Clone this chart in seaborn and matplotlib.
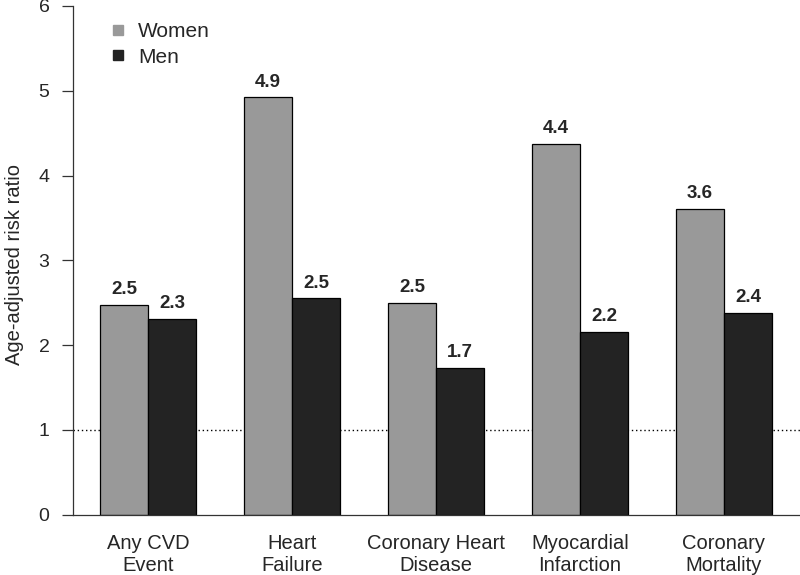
import pandas as pd
import matplotlib
matplotlib.use('Agg')
import matplotlib.pyplot as plt
from matplotlib.lines import Line2D
import seaborn as sns

# данные
categories = ['Any CVD\nEvent', 'Heart\nFailure', 'Coronary Heart\nDisease',
              'Myocardial\nInfarction', 'Coronary\nMortality']
women = [2.47, 4.92, 2.50, 4.37, 3.60]
men = [2.31, 2.55, 1.73, 2.16, 2.38]
women_labels = ['2.5', '4.9', '2.5', '4.4', '3.6']
men_labels = ['2.3', '2.5', '1.7', '2.2', '2.4']
groups = ['Women', 'Men']
colors = ['#999999', '#232323']

data = pd.DataFrame({
    'category': categories * 2,
    'value': women + men,
    'sex': ['Women'] * len(women) + ['Men'] * len(men),
})

sns.set_style('ticks')
plt.rcParams['font.family'] = ['Liberation Sans', 'DejaVu Sans']

fig = plt.figure(figsize=(8, 5.75), dpi=100)
ax = fig.add_axes([73 / 800, 60.3 / 575, 727 / 800, 508.8 / 575])

sns.barplot(data=data, x='category', y='value', hue='sex', hue_order=groups,
            palette=colors, width=2 / 3, gap=0, edgecolor='black', linewidth=0.9,
            saturation=1, legend=False, ax=ax)

# подписи над столбцами
for cont, labs in zip(ax.containers, [women_labels, men_labels]):
    ax.bar_label(cont, labels=labs, padding=5, fontsize=13.5, fontweight='bold')

# пунктир на уровне 1
ax.axhline(1, color='black', linestyle=(0, (1, 2)), linewidth=1.0, zorder=0.5)

ax.set_xlim(-0.521, 4.528)
ax.set_ylim(0, 6)
ax.set_yticks(range(0, 7))
ax.tick_params(axis='y', length=8, width=0.9, labelsize=14, pad=9, color='#333333')
ax.tick_params(axis='x', length=0, labelsize=14.5, pad=14)
ax.set_xlabel('')
ax.set_ylabel('Age-adjusted risk ratio', fontsize=14.5)
ax.yaxis.set_label_coords(-0.067, 0.492)

for s in ['top', 'right']:
    ax.spines[s].set_visible(False)
for s in ['left', 'bottom']:
    ax.spines[s].set_color('#333333')
    ax.spines[s].set_linewidth(0.9)

handles = [Line2D([], [], marker='s', linestyle='', color=c, markersize=6.5) for c in colors]
ax.legend(handles, groups, loc='upper left', bbox_to_anchor=(108 / 800, 1 - 22 / 575),
          bbox_transform=fig.transFigure, frameon=False, fontsize=15,
          handlelength=1.0, handletextpad=0.44, labelspacing=0.32,
          borderpad=0, borderaxespad=0)

fig.savefig('out.png', dpi=100)
